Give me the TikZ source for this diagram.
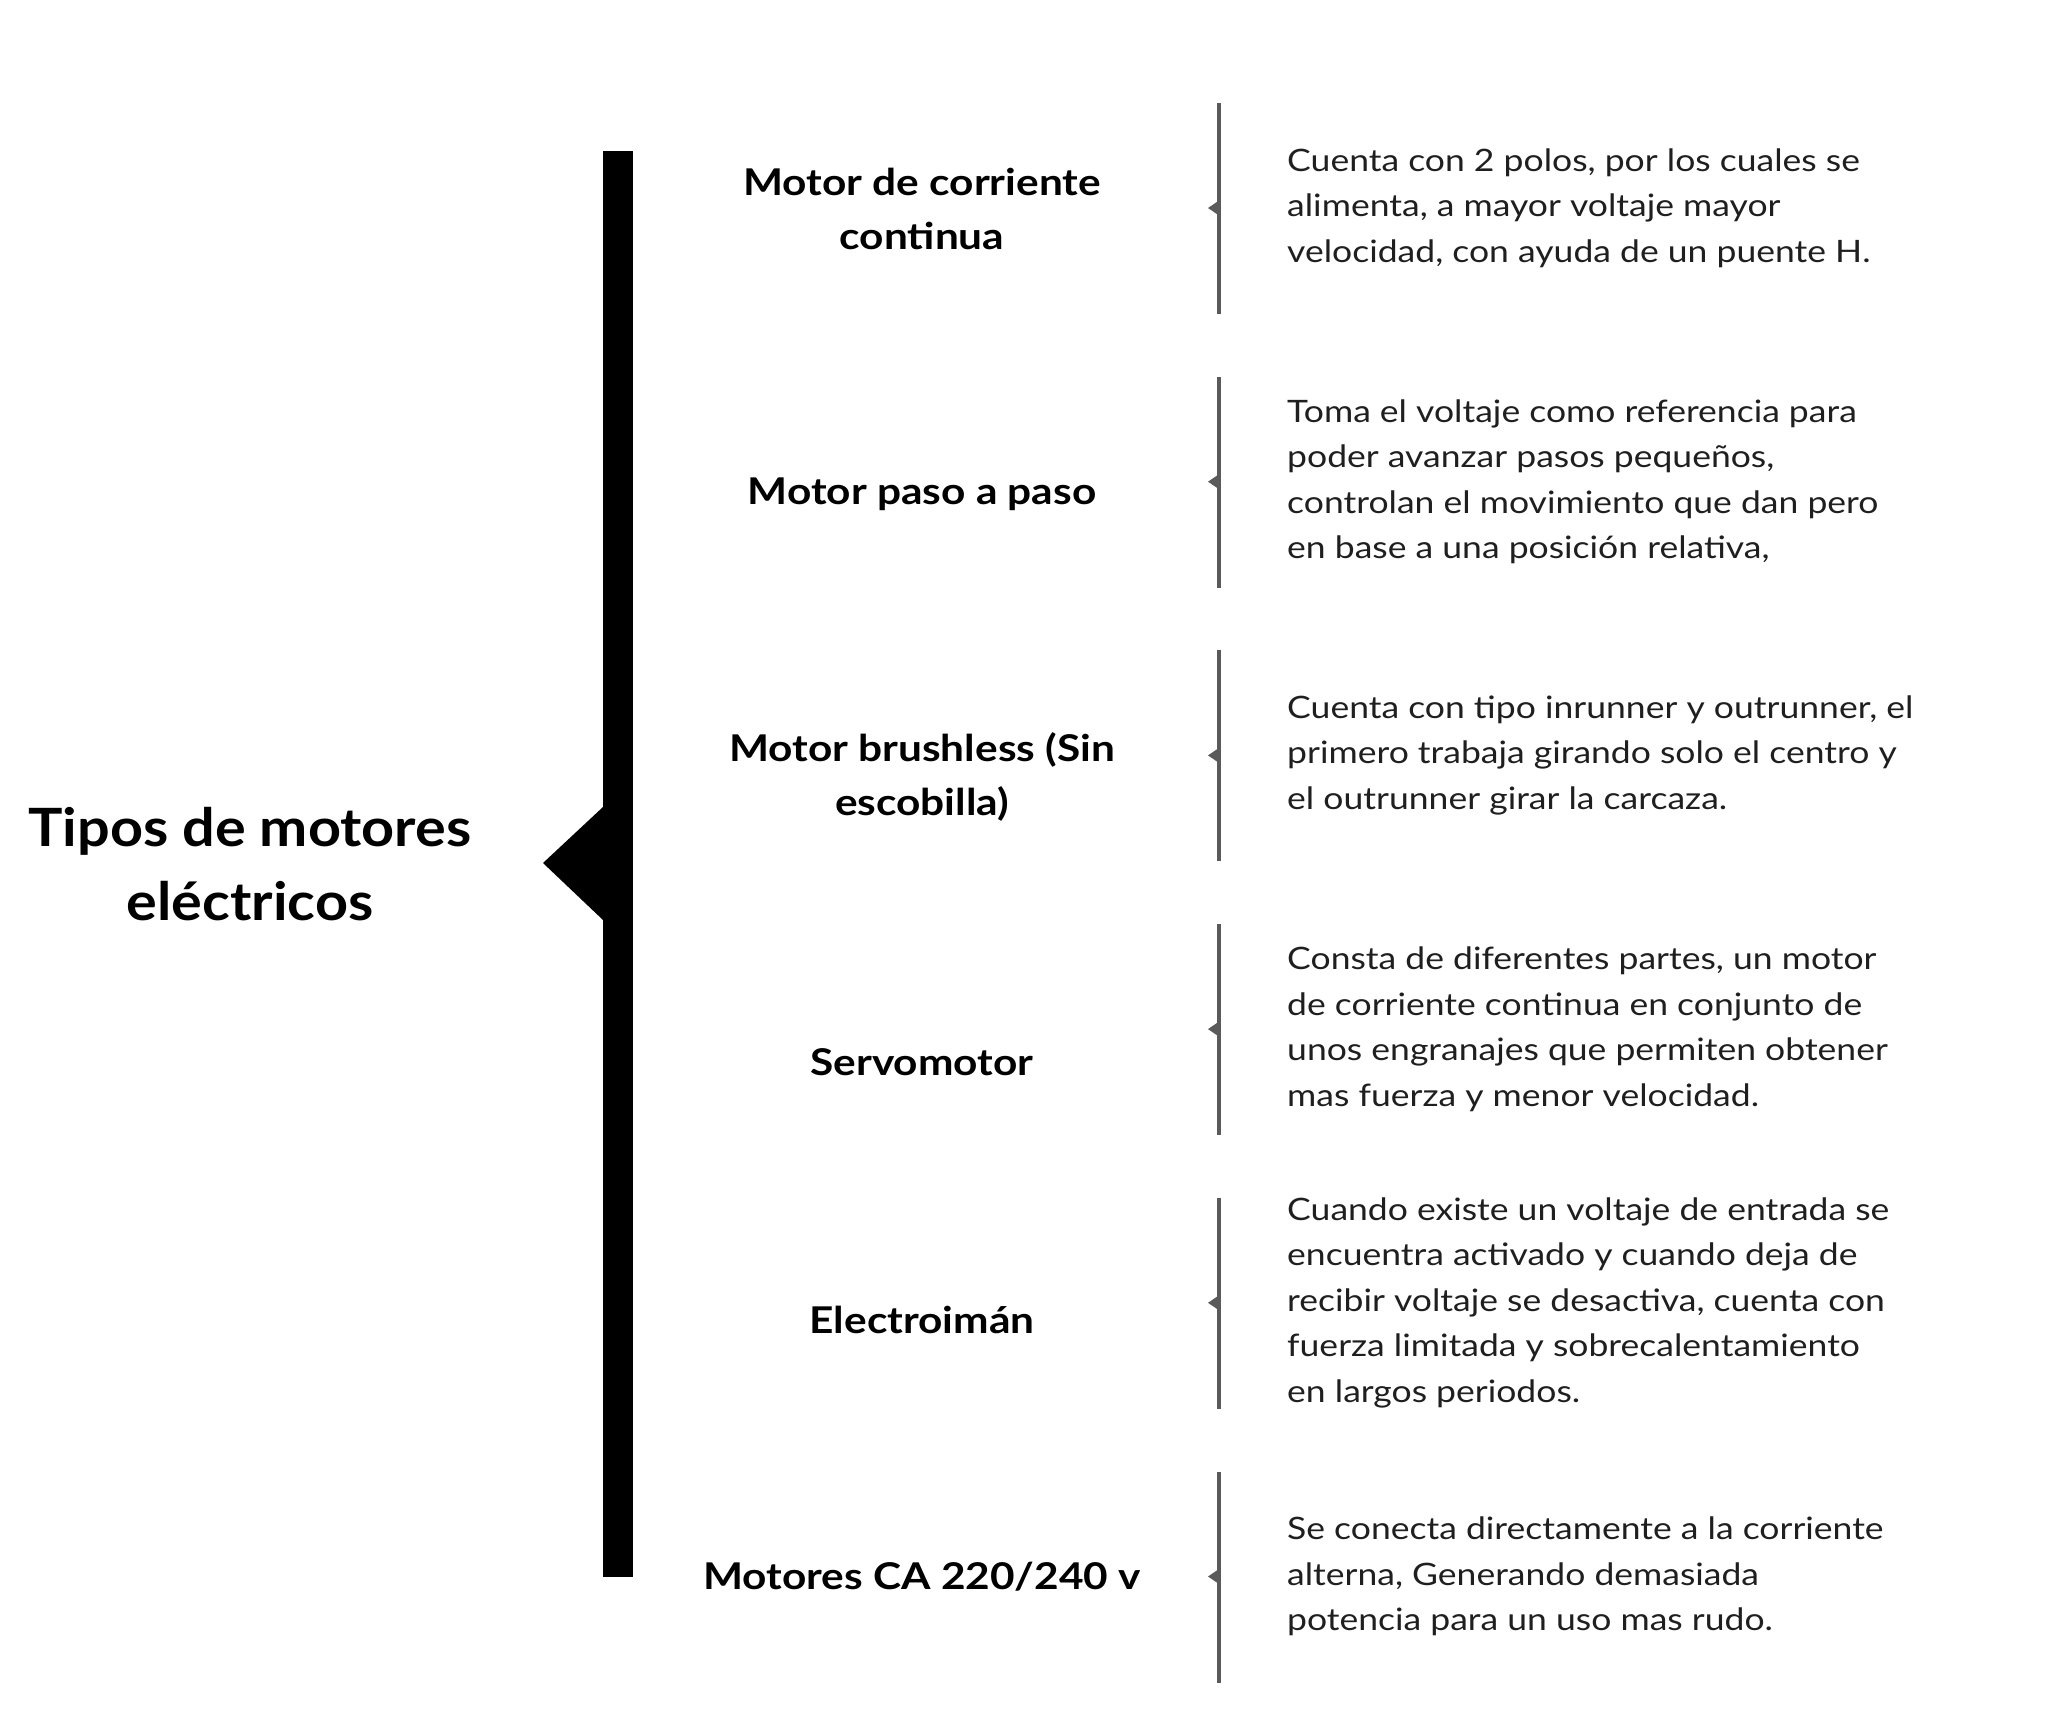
\documentclass[tikz,border=0pt]{standalone}
\usepackage{fontspec}
\setmainfont{Lato}
\newfontfamily\anchafont{Lato}[FakeStretch=1.15]
\newfontfamily\titfont{Lato}[FakeStretch=1.09]
\usetikzlibrary{positioning}
\definecolor{railgray}{HTML}{5A5A5A}
\tikzset{
  titulo/.style={font=\titfont\bfseries\fontsize{53}{74}\selectfont, align=center},
  tipo/.style={font=\anchafont\bfseries\fontsize{37}{55}\selectfont, align=center},
  desc/.style={font=\anchafont\fontsize{31}{45.7}\selectfont, align=left, anchor=west, inner sep=0pt, text=black!88},
  riel/.style={draw=railgray, line width=4bp},
}
\begin{document}
\begin{tikzpicture}[x=1bp,y=-1bp]
  \useasboundingbox (0,0) rectangle (2048,1722);

  % Main brace
  \fill (603,151) rectangle (633,1577);
  \fill (603,807) -- (543,863) -- (603,920) -- cycle;
  \node[titulo] (titulo) at (250,864) {Tipos de motores\\eléctricos};

  % Types and descriptions
  \foreach \i/\ly/\lab/\desc in {
    1/209/{Motor de corriente\\continua}/{Cuenta con 2 polos, por los cuales se\\alimenta, a mayor voltaje mayor\\velocidad, con ayuda de un puente H.},
    2/494/{Motor paso a paso}/{Toma el voltaje como referencia para\\poder avanzar pasos pequeños,\\controlan el movimiento que dan pero\\en base a una posición relativa,},
    3/777/{Motor brushless (Sin\\escobilla)}/{Cuenta con tipo inrunner y outrunner, el\\primero trabaja girando solo el centro y\\el outrunner girar la carcaza.},
    4/1062/{Servomotor}/{Consta de diferentes partes, un motor\\de corriente continua en conjunto de\\unos engranajes que permiten obtener\\mas fuerza y menor velocidad.},
    5/1320/{Electroimán}/{Cuando existe un voltaje de entrada se\\encuentra activado y cuando deja de\\recibir voltaje se desactiva, cuenta con\\fuerza limitada y sobrecalentamiento\\en largos periodos.},
    6/1577/{Motores CA 220/240 v}/{Se conecta directamente a la corriente\\alterna, Generando demasiada\\potencia para un uso mas rudo.}} {
    \pgfmathsetmacro{\ny}{208+273.7*(\i-1)}
    \node[tipo] (tipo\i) at (922,\ly) {\lab};
    \coordinate (muesca\i) at (1219,\ny);
    \draw[riel] (muesca\i) ++(0,-105) -- ++(0,211);
    \fill[railgray] (muesca\i) ++(0,-7.5) -- ++(-11,7.5) -- ++(11,7.5) -- cycle;
    \node[desc] (desc\i) at (1287,\ny) {\desc};
  }
\end{tikzpicture}
\end{document}
